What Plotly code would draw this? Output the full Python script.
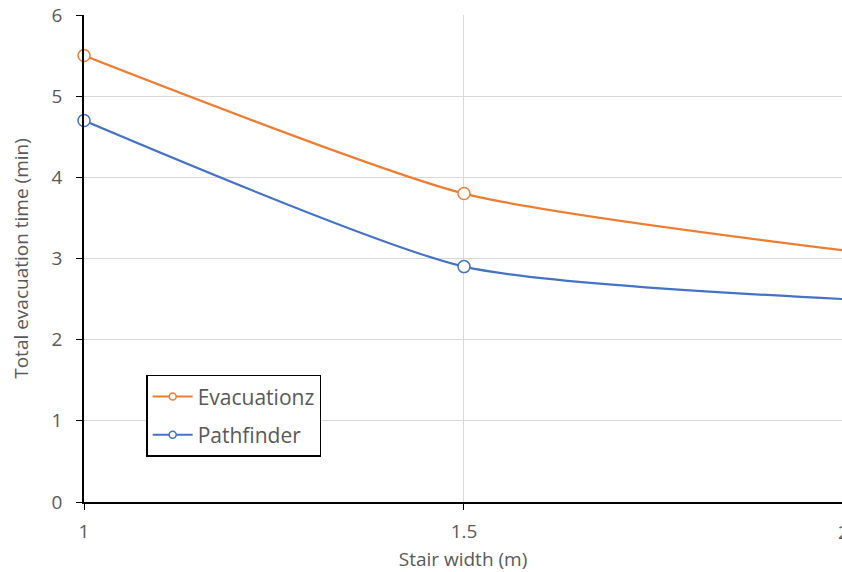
import plotly.graph_objects as go

# Stair width (m) and total evacuation time (min) per model
stair_width = [1.0, 1.5, 2.0]
evacuationz = [5.5, 3.8, 3.1]
pathfinder = [4.7, 2.9, 2.5]
y_ticks = [0, 1, 2, 3, 4, 5, 6]
x_ticks = [1, 1.5]

ORANGE = "#ED7D31"
BLUE = "#4472C4"
FONT = "Open Sans, Noto Sans, sans-serif"
TICK_COLOR = "#595959"
X_MAX = 1.9974

fig = go.Figure()

for name, vals, col in [("Evacuationz", evacuationz, ORANGE), ("Pathfinder", pathfinder, BLUE)]:
    fig.add_trace(go.Scatter(
        x=stair_width, y=vals, mode="lines+markers", name=name,
        line=dict(color=col, width=2.2, shape="spline", smoothing=0.6),
        marker=dict(size=12, color="white", line=dict(color=col, width=1.5)),
        cliponaxis=False, showlegend=False,
    ))
    # legend entry with a smaller marker
    fig.add_trace(go.Scatter(
        x=[None], y=[None], mode="lines+markers", name=name, legendgroup=name,
        line=dict(color=col, width=2),
        marker=dict(size=7, color="white", line=dict(color=col, width=1.5)),
    ))

fig.update_layout(
    width=842, height=572,
    margin=dict(l=84, r=0, t=15, b=70),
    plot_bgcolor="white", paper_bgcolor="white",
    font=dict(family=FONT, color=TICK_COLOR, size=19),
    legend=dict(
        x=0.082, y=0.261, xanchor="left", yanchor="top",
        bordercolor="black", borderwidth=1.5, bgcolor="white",
        font=dict(size=21, color=TICK_COLOR),
        tracegroupgap=8, itemwidth=40,
    ),
    xaxis=dict(
        range=[1, X_MAX], tickvals=x_ticks, ticktext=["1", "1.5"],
        showgrid=True, gridcolor="#D9D9D9", gridwidth=1,
        showline=True, linecolor="black", linewidth=1.5,
        ticks="outside", ticklen=6, tickcolor="black",
        ticklabelstandoff=5,
        tickfont=dict(size=19, color=TICK_COLOR),
        title=dict(text="Stair width (m)", font=dict(size=19, color=TICK_COLOR), standoff=16),
        zeroline=False,
    ),
    yaxis=dict(
        range=[0, 6], tickvals=y_ticks,
        showgrid=True, gridcolor="#D9D9D9", gridwidth=1,
        showline=True, linecolor="black", linewidth=1.5,
        ticks="outside", ticklen=6, tickcolor="black",
        ticklabelstandoff=10,
        tickfont=dict(size=19, color=TICK_COLOR),
        title=dict(text="Total evacuation time (min)", font=dict(size=19, color=TICK_COLOR), standoff=18),
        zeroline=False,
    ),
)

# tick label at x = 2 sits on the right edge of the page
fig.add_annotation(
    x=(2.0 - 1.0) / (X_MAX - 1.0), y=0, xref="paper", yref="paper", text="2",
    xanchor="center", yanchor="middle", showarrow=False, yshift=-30,
    font=dict(size=19, color=TICK_COLOR),
)

fig.write_html("out.html")
